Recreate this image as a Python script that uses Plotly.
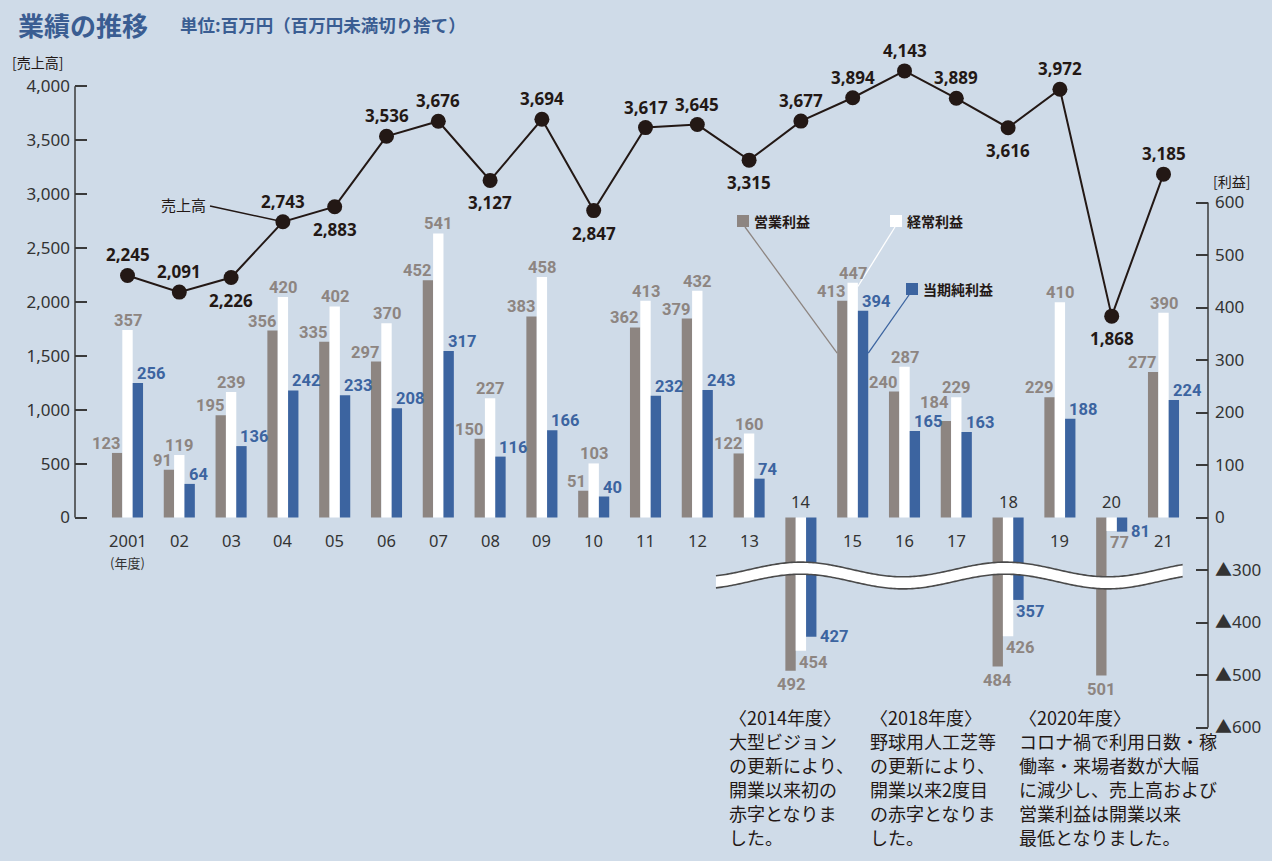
import math
import plotly.graph_objects as go

# ---------------- data ----------------
YEARS = list(range(2001, 2022))
YEAR_LABELS = ["2001", "02", "03", "04", "05", "06", "07", "08", "09", "10",
               "11", "12", "13", "14", "15", "16", "17", "18", "19", "20", "21"]
SALES = [2245, 2091, 2226, 2743, 2883, 3536, 3676, 3127, 3694, 2847,
         3617, 3645, 3315, 3677, 3894, 4143, 3889, 3616, 3972, 1868, 3185]
OPERATING = [123, 91, 195, 356, 335, 297, 452, 150, 383, 51,
             362, 379, 122, -492, 413, 240, 184, -484, 229, -501, 277]
ORDINARY = [357, 119, 239, 420, 402, 370, 541, 227, 458, 103,
            413, 432, 160, -454, 447, 287, 229, -426, 410, -77, 390]
NET = [256, 64, 136, 242, 233, 208, 317, 116, 166, 40,
       232, 243, 74, -427, 394, 165, 163, -357, 188, -81, 224]
SALES_TICKS = [0, 500, 1000, 1500, 2000, 2500, 3000, 3500, 4000]
PROFIT_TICKS = [600, 500, 400, 300, 200, 100, 0, -300, -400, -500, -600]
SERIES_NAMES = ["営業利益", "経常利益", "当期純利益"]
LINE_NAME = "売上高"
TITLE = "業績の推移"
SUBTITLE = "単位:百万円（百万円未満切り捨て）"
NOTES = [
    ["〈2014年度〉", "大型ビジョン", "の更新により、", "開業以来初の", "赤字となりま", "した。"],
    ["〈2018年度〉", "野球用人工芝等", "の更新により、", "開業以来2度目", "の赤字となりま", "した。"],
    ["〈2020年度〉", "コロナ禍で利用日数・稼", "働率・来場者数が大幅", "に減少し、売上高および",
     "営業利益は開業以来", "最低となりました。"],
]

# ---------------- style ----------------
SALES_LABEL_SIDE = ["above", "above", "below", "above", "below", "above", "above", "below",
                    "above", "below", "above", "above", "below", "above", "above", "above",
                    "above", "below", "above", "below", "above"]
NET_SIDE_LABEL_YEARS = {2014, 2020}
RAISED_LABELS = {("営業利益", 2017): 9}

W, H = 1272, 861
PL, PR, PT, PB = 75, 1208, 60, 760
X0_PX, DX_PX = 127.5, 51.8
ZERO_PX = 517.5
SALES_PX = 0.1078
PROFIT_PX = 0.525
BARGAP = 0.4
BAR_W = (1 - BARGAP) / 3

BG = "#cfdbe8"
GRAY = "#8d8581"
WHITE = "#ffffff"
BLUE = "#3c64a0"
INK = "#231815"
AXIS = "#3a3a3a"
TITLE_BLUE = "#3a5d92"
JP = "Noto Sans CJK JP"
NUM = "Noto Sans, Noto Sans CJK JP"
COND = "Roboto, sans-serif"

BREAK = 300
COMPRESS = 3.0


def prof(v):
    """broken profit axis: 0..-300 compressed, below -300 linear again"""
    if v >= 0:
        return float(v)
    if v >= -BREAK:
        return v / COMPRESS
    return -BREAK / COMPRESS + (v + BREAK)


def paper(xp, yp):
    return (xp - PL) / (PR - PL), (PB - yp) / (PB - PT)


idx = list(range(len(YEARS)))
x_range = [(PL - X0_PX) / DX_PX, (PR - X0_PX) / DX_PX]
y_range = [(ZERO_PX - PB) / SALES_PX, (ZERO_PX - PT) / SALES_PX]
y2_range = [(ZERO_PX - PB) / PROFIT_PX, (ZERO_PX - PT) / PROFIT_PX]

fig = go.Figure()

series = [
    (SERIES_NAMES[0], OPERATING, GRAY, GRAY, -1),
    (SERIES_NAMES[1], ORDINARY, WHITE, GRAY, 0),
    (SERIES_NAMES[2], NET, BLUE, BLUE, 1),
]
for name, vals, color, _, _ in series:
    fig.add_trace(go.Bar(
        x=idx, y=[prof(v) for v in vals], name=name, yaxis="y2",
        marker=dict(color=color, line=dict(width=0)), showlegend=False,
    ))

fig.add_trace(go.Scatter(
    x=idx, y=SALES, name=LINE_NAME, yaxis="y", mode="lines+markers",
    line=dict(color=INK, width=2), marker=dict(size=15, color=INK), showlegend=False,
))

anns = []
shapes = []

# sales value labels
for i, s in enumerate(SALES):
    above = SALES_LABEL_SIDE[i] == "above"
    anns.append(dict(
        x=i, y=s, xref="x", yref="y", text=f"{s:,}", showarrow=False,
        font=dict(family=NUM, size=17, color=INK, weight="bold"),
        xanchor="center", yanchor="bottom" if above else "top",
        yshift=7 if above else -9,
    ))

# bar value labels
for name, vals, color, tcolor, pos in series:
    off = pos * BAR_W
    for i, v in enumerate(vals):
        a = dict(x=i + off, y=prof(v), xref="x", yref="y2", text=str(abs(v)), showarrow=False,
                 font=dict(family=COND, size=16.5, color=tcolor, weight="bold"))
        if v >= 0:
            a.update(yanchor="bottom", yshift=-2 + RAISED_LABELS.get((name, YEARS[i]), 0))
            if pos < 0:
                a.update(xanchor="right", xshift=5)
            elif pos == 0:
                a.update(xanchor="center")
            else:
                a.update(xanchor="left", xshift=-3)
        else:
            if pos < 0:
                a.update(xanchor="center", yanchor="top", yshift=-2)
            elif pos > 0 and YEARS[i] in NET_SIDE_LABEL_YEARS:
                a.update(x=i + off + BAR_W / 2, xanchor="left", yanchor="middle", xshift=2)
            else:
                a.update(xanchor="left", xshift=-4, yanchor="top")
        anns.append(a)

# x category labels
for i, lab in enumerate(YEAR_LABELS):
    neg = min(OPERATING[i], ORDINARY[i], NET[i]) < 0
    anns.append(dict(
        x=i, y=0, xref="x", yref="y2", text=lab, showarrow=False,
        font=dict(family=NUM, size=16.5, color="#333333"),
        xanchor="center", yanchor="bottom" if neg else "top",
        yshift=3 if neg else -9,
    ))
anns.append(dict(x=0, y=0, xref="x", yref="y2", text="(年度)", showarrow=False,
                 font=dict(family=JP, size=13, color="#333333"),
                 xanchor="center", yanchor="top", yshift=-33))

# titles & axis titles
px_, py_ = paper(16, 24)
anns.append(dict(x=px_, y=py_, xref="paper", yref="paper", text=TITLE, showarrow=False,
                 font=dict(family=JP, size=26, color=TITLE_BLUE, weight="bold"),
                 xanchor="left", yanchor="middle"))
px_, py_ = paper(178, 24)
anns.append(dict(x=px_, y=py_, xref="paper", yref="paper", text=SUBTITLE, showarrow=False,
                 font=dict(family=JP, size=17.5, color=TITLE_BLUE, weight="bold"),
                 xanchor="left", yanchor="middle"))
px_, py_ = paper(10, 62)
anns.append(dict(x=px_, y=py_, xref="paper", yref="paper", text="[売上高]", showarrow=False,
                 font=dict(family=JP, size=14, color=INK), xanchor="left", yanchor="middle"))
px_, py_ = paper(1211, 181)
anns.append(dict(x=px_, y=py_, xref="paper", yref="paper", text="[利益]", showarrow=False,
                 font=dict(family=JP, size=14, color=INK), xanchor="left", yanchor="middle"))

# sales line label with leader
px_, py_ = paper(208, 204)
anns.append(dict(x=px_, y=py_, xref="paper", yref="paper", text=LINE_NAME, showarrow=False,
                 font=dict(family=JP, size=15, color=INK), xanchor="right", yanchor="middle"))
shapes.append(dict(type="line", xref="x", yref="y",
                   x0=(210 - X0_PX) / DX_PX, y0=(ZERO_PX - 206) / SALES_PX,
                   x1=3, y1=SALES[3], line=dict(color=INK, width=1.5), layer="below"))

# legend squares, names, leaders
LEG = [
    # name, fill, square px (x0,y0), text px, leader start px, leader end (x, profit)
    (SERIES_NAMES[0], GRAY, (737, 215), (752, 221), (745, 227), (14 - 1.5 * BAR_W, 313)),
    (SERIES_NAMES[1], WHITE, (890, 215), (905, 221), (895, 227), (14 + 0.5 * BAR_W, 440)),
    (SERIES_NAMES[2], BLUE, (906, 283), (921, 289), (909, 295), (14 + 1.5 * BAR_W, 313)),
]
for name, col, sq, tp, ls, le in LEG:
    ax0, ay0 = paper(sq[0], sq[1])
    ax1, ay1 = paper(sq[0] + 12, sq[1] + 12)
    shapes.append(dict(type="rect", xref="paper", yref="paper", x0=ax0, y0=ay0, x1=ax1, y1=ay1,
                       fillcolor=col, line=dict(width=0), layer="above"))
    tx, ty = paper(*tp)
    anns.append(dict(x=tx, y=ty, xref="paper", yref="paper", text=name, showarrow=False,
                     font=dict(family=JP, size=14, color=INK, weight="bold"),
                     xanchor="left", yanchor="middle"))
    shapes.append(dict(type="line", xref="x", yref="y2",
                       x0=(ls[0] - X0_PX) / DX_PX, y0=(ZERO_PX - ls[1]) / PROFIT_PX,
                       x1=le[0], y1=prof(le[1]),
                       line=dict(color=col, width=1.3), layer="below"))

# wave break band
WAVE_X0, WAVE_X1 = 11.36, 20.37
WAVE_PEAK, WAVE_PERIOD = 13.0, 3.95
WAVE_CENTER = prof(-BREAK) - 10.5
WAVE_AMP, WAVE_HALF = 14.0, 11.5
n = 240
xs = [WAVE_X0 + (WAVE_X1 - WAVE_X0) * k / n for k in range(n + 1)]
cs = [WAVE_CENTER + WAVE_AMP * math.cos(2 * math.pi * (x - WAVE_PEAK) / WAVE_PERIOD) for x in xs]
top = [(x, c + WAVE_HALF) for x, c in zip(xs, cs)]
bot = [(x, c - WAVE_HALF) for x, c in zip(xs, cs)]


def pth(pts):
    return "M " + " L ".join(f"{x:.4f},{y:.3f}" for x, y in pts)


shapes.append(dict(type="path", xref="x", yref="y2", path=pth(top + bot[::-1]) + " Z",
                   fillcolor=WHITE, line=dict(width=0), layer="above"))
for edge in (top, bot):
    shapes.append(dict(type="path", xref="x", yref="y2", path=pth(edge),
                       fillcolor="rgba(0,0,0,0)", line=dict(color="#4a4a4a", width=1.6),
                       layer="above"))

# axis lines
shapes.append(dict(type="line", xref="paper", yref="y", x0=0, x1=0,
                   y0=SALES_TICKS[0], y1=SALES_TICKS[-1], line=dict(color=AXIS, width=1.5)))
shapes.append(dict(type="line", xref="paper", yref="y2", x0=1, x1=1,
                   y0=prof(PROFIT_TICKS[0]), y1=prof(PROFIT_TICKS[-1]),
                   line=dict(color=AXIS, width=1.5)))

# notes
NOTE_X = [727, 868, 1017]
NOTE_TOP = 717
NOTE_STEP = 24
for col_x, lines in zip(NOTE_X, NOTES):
    for k, ln in enumerate(lines):
        nx, ny = paper(col_x, NOTE_TOP + k * NOTE_STEP)
        anns.append(dict(x=nx, y=ny, xref="paper", yref="paper", text=ln, showarrow=False,
                         font=dict(family=JP, size=18, color=INK),
                         xanchor="left", yanchor="middle"))

fig.update_layout(
    width=W, height=H,
    margin=dict(l=PL, r=W - PR, t=PT, b=H - PB),
    paper_bgcolor=BG, plot_bgcolor=BG,
    barmode="group", bargap=BARGAP, bargroupgap=0,
    showlegend=False,
    xaxis=dict(range=x_range, visible=False, fixedrange=True),
    yaxis=dict(range=y_range, tickvals=SALES_TICKS, ticktext=[f"{v:,}" for v in SALES_TICKS],
               ticks="inside", ticklen=12, tickwidth=1.5, tickcolor=AXIS,
               showgrid=False, zeroline=False, showline=False, automargin=False,
               tickfont=dict(family=NUM, size=17, color="#333333"), ticklabelstandoff=4),
    yaxis2=dict(range=y2_range, overlaying="y", side="right",
                tickvals=[prof(v) for v in PROFIT_TICKS],
                ticktext=[str(v) if v >= 0 else "▲" + str(-v) for v in PROFIT_TICKS],
                ticks="inside", ticklen=12, tickwidth=1.5, tickcolor=AXIS,
                showgrid=False, zeroline=False, showline=False, automargin=False,
                tickfont=dict(family=NUM, size=17, color="#333333"), ticklabelstandoff=6),
    annotations=anns,
    shapes=shapes,
)

fig.write_html("out.html", config={"displayModeBar": False},
               post_script="document.body.style.margin='0';")
